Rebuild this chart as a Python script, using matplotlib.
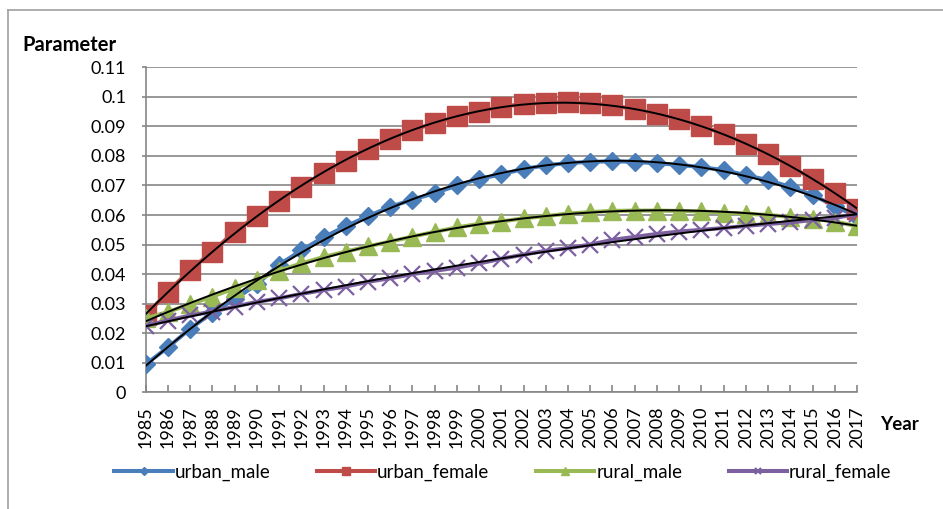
import numpy as np
import matplotlib
matplotlib.use("Agg")
import matplotlib.pyplot as plt
from matplotlib.lines import Line2D

plt.rcParams['font.family'] = ['Lato', 'DejaVu Sans']

# yearly parameter estimates per group
years = list(range(1985, 2018))
urban_male = [0.0095, 0.0152, 0.0215, 0.0270, 0.0315, 0.0365, 0.0432, 0.0480, 0.0525, 0.0562,
              0.0596, 0.0628, 0.0652, 0.0674, 0.0700, 0.0722, 0.0738, 0.0756, 0.0768, 0.0776,
              0.0780, 0.0782, 0.0780, 0.0775, 0.0770, 0.0762, 0.0752, 0.0735, 0.0718, 0.0695,
              0.0668, 0.0630, 0.0595]
urban_female = [0.0260, 0.0340, 0.0414, 0.0476, 0.0544, 0.0597, 0.0647, 0.0696, 0.0742, 0.0784,
                0.0824, 0.0858, 0.0888, 0.0911, 0.0934, 0.0950, 0.0967, 0.0975, 0.0980, 0.0981,
                0.0979, 0.0971, 0.0958, 0.0942, 0.0924, 0.0902, 0.0874, 0.0841, 0.0806, 0.0766,
                0.0721, 0.0674, 0.0621]
rural_male = [0.0250, 0.0272, 0.0298, 0.0324, 0.0352, 0.0380, 0.0412, 0.0436, 0.0458, 0.0476,
              0.0494, 0.0510, 0.0527, 0.0543, 0.0558, 0.0570, 0.0578, 0.0589, 0.0596, 0.0605,
              0.0610, 0.0614, 0.0615, 0.0615, 0.0614, 0.0612, 0.0608, 0.0605, 0.0600, 0.0594,
              0.0588, 0.0578, 0.0562]
rural_female = [0.0225, 0.0243, 0.0260, 0.0273, 0.0290, 0.0306, 0.0318, 0.0333, 0.0346, 0.0358,
                0.0374, 0.0386, 0.0400, 0.0411, 0.0422, 0.0436, 0.0452, 0.0466, 0.0479, 0.0488,
                0.0500, 0.0516, 0.0526, 0.0536, 0.0544, 0.0550, 0.0556, 0.0563, 0.0570, 0.0575,
                0.0583, 0.0590, 0.0604]

series = [
    ("urban_male", urban_male, "#4A7EBB", "D", 9.5, 1.0),
    ("urban_female", urban_female, "#BE4B48", "s", 14, 1.0),
    ("rural_male", rural_male, "#98B954", "^", 13, 1.0),
    ("rural_female", rural_female, "#7D60A0", "x", 11, 1.6),
]

fig = plt.figure(figsize=(9.43, 5.09), dpi=100)
ax = fig.add_axes([145.7 / 943, 1 - 392.3 / 509, (857 - 145.7) / 943, (392.3 - 67.3) / 509])

x = np.arange(len(years))
xs = np.linspace(0, len(years) - 1, 200)
grey = "#868686"

for name, vals, col, mk, ms, mew in series:
    ax.plot(x, vals, color=col, lw=2.9, marker=mk, ms=ms, mew=mew,
            mec=col, mfc=col, label=name, zorder=3)

# 2nd order polynomial trend for each group
for name, vals, col, mk, ms, mew in series:
    coef = np.polyfit(x, vals, 2)
    ax.plot(xs, np.polyval(coef, xs), color="black", lw=1.4, zorder=4)

ax.set_xlim(0, len(years) - 1)
ax.set_ylim(0, 0.11)
ax.set_yticks(np.arange(0, 0.111, 0.01))
ax.set_yticklabels(["0", "0.01", "0.02", "0.03", "0.04", "0.05", "0.06", "0.07",
                    "0.08", "0.09", "0.1", "0.11"])
ax.set_xticks(x)
ax.set_xticklabels([str(y) for y in years], rotation=90)
ax.grid(axis="y", color=grey, lw=1.2)
ax.set_axisbelow(True)

for s in ["top", "right"]:
    ax.spines[s].set_visible(False)
for s in ["left", "bottom"]:
    ax.spines[s].set_color(grey)
    ax.spines[s].set_linewidth(1.2)

ax.tick_params(axis="y", direction="out", length=3, width=1.2, color=grey,
               labelsize=13, pad=11)
ax.tick_params(axis="x", direction="in", length=5, width=1.2, color=grey,
               labelsize=13, pad=10)

fig.text(22 / 943, 1 - 45 / 509, "Parameter", fontsize=14.5, fontweight="bold",
         va="center", ha="left")
fig.text(880 / 943, 1 - 424 / 509, "Year", fontsize=13.5, fontweight="bold",
         va="center", ha="left")

fig.legend(loc="center", bbox_to_anchor=(503 / 943, 1 - 472 / 509), ncol=4,
           frameon=False, fontsize=13.5, markerscale=0.45, handlelength=3.1,
           handletextpad=0.1, columnspacing=2.5)

# chart frame
fig.add_artist(Line2D([8 / 943, 1], [1 - 10 / 509] * 2, color="#A0A0A0", lw=1.2))
fig.add_artist(Line2D([8 / 943] * 2, [0, 1 - 10 / 509], color="#A0A0A0", lw=1.2))

fig.savefig("out.png", dpi=100)
